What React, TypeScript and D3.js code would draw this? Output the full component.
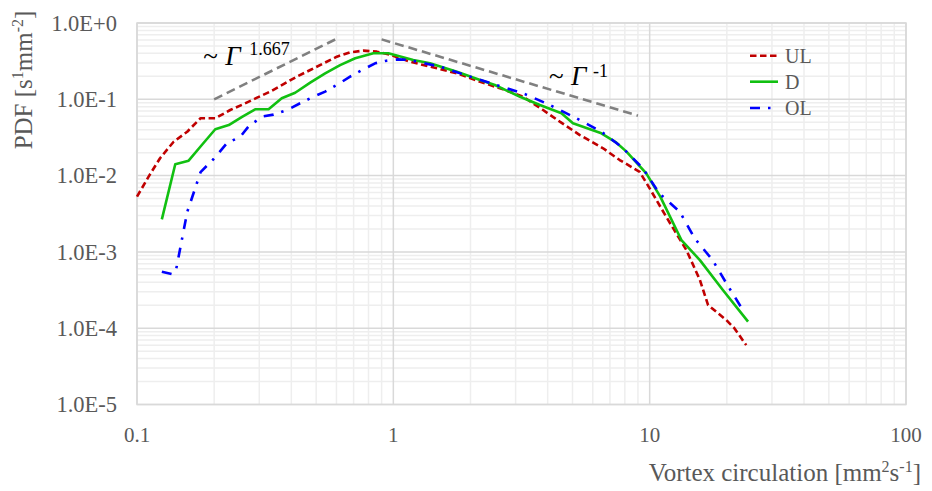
import React from "react";
import * as d3 from "d3";

// ---- data ----
const ulX = [0.1, 0.111, 0.123, 0.139, 0.157, 0.177, 0.202, 0.231, 0.261, 0.294, 0.331, 0.373, 0.42, 0.474, 0.534, 0.602, 0.678, 0.764, 0.862, 0.97, 1.16, 1.48, 1.77, 2.18, 2.68, 3.21, 3.84, 4.46, 5.34, 6.58, 7.64, 9.14, 10.0, 11.6, 13.9, 15.7, 16.9, 19.9, 21.4, 23.8];
const ulY = [0.0053, 0.0097, 0.0169, 0.0278, 0.0376, 0.0564, 0.0564, 0.0724, 0.0868, 0.105, 0.126, 0.158, 0.198, 0.242, 0.296, 0.362, 0.413, 0.434, 0.421, 0.385, 0.311, 0.255, 0.219, 0.17, 0.135, 0.108, 0.0724, 0.0509, 0.034, 0.0228, 0.016, 0.0112, 0.0068, 0.00289, 0.00106, 0.00043, 0.000201, 0.000128, 0.0001, 0.00006];

const dX = [0.125, 0.141, 0.159, 0.179, 0.202, 0.228, 0.257, 0.289, 0.326, 0.367, 0.414, 0.474, 0.542, 0.62, 0.71, 0.836, 0.956, 1.196, 1.39, 1.77, 2.18, 2.49, 3.12, 3.73, 4.53, 5.02, 6.48, 7.42, 8.12, 9.7, 11.0, 13.3, 15.7, 19.3, 24.2];
const dY = [0.00267, 0.0141, 0.0157, 0.0252, 0.0405, 0.046, 0.059, 0.074, 0.074, 0.103, 0.122, 0.165, 0.219, 0.281, 0.345, 0.401, 0.401, 0.327, 0.296, 0.23, 0.179, 0.154, 0.108, 0.0842, 0.0655, 0.0485, 0.0358, 0.027, 0.0206, 0.0107, 0.0053, 0.00143, 0.00078, 0.000317, 0.000122];

const olX = [0.125, 0.137, 0.142, 0.157, 0.177, 0.199, 0.224, 0.253, 0.272, 0.307, 0.341, 0.385, 0.433, 0.488, 0.542, 0.602, 0.678, 0.764, 0.849, 0.943, 1.046, 1.16, 1.52, 1.96, 2.53, 3.26, 4.08, 5.18, 6.48, 7.76, 9.4, 10.9, 13.1, 15.0, 17.6, 19.9, 23.1];
const olY = [0.00055, 0.00051, 0.00058, 0.00333, 0.0111, 0.0165, 0.0265, 0.0324, 0.0438, 0.0592, 0.063, 0.0724, 0.0887, 0.108, 0.126, 0.154, 0.198, 0.247, 0.296, 0.321, 0.334, 0.327, 0.268, 0.202, 0.154, 0.117, 0.0842, 0.0564, 0.0376, 0.0239, 0.0125, 0.00586, 0.00336, 0.0015, 0.00078, 0.00039, 0.000173];

const refUpX = [0.2, 0.6];
const refUpY = [0.1, 0.62];
const refDownX = [0.9, 9];
const refDownY = [0.61, 0.061];

const xTicks = [0.1, 1, 10, 100];
const xTickLabels = ["0.1", "1", "10", "100"];
const yTicks = [1, 0.1, 0.01, 0.001, 0.0001, 0.00001];
const yTickLabels = ["1.0E+0", "1.0E-1", "1.0E-2", "1.0E-3", "1.0E-4", "1.0E-5"];

const seriesNames = ["UL", "D", "OL"];

const W = 932;
const H = 491;
const M = { left: 137, right: 906, top: 23, bottom: 404.5 };
const FONT = "'Liberation Serif', 'Times New Roman', serif";

const styles = [
  { color: "#C00000", dash: "6.5,3.5", width: 2.6 },
  { color: "#11C011", dash: "", width: 2.6 },
  { color: "#0000FF", dash: "10,8,2.5,8.5", width: 2.6 },
];

export default function App() {
  const x = d3.scaleLog().domain([0.1, 100]).range([M.left, M.right]);
  const y = d3.scaleLog().domain([1e-5, 1]).range([M.bottom, M.top]);

  const line = d3
    .line<[number, number]>()
    .x((d) => x(d[0]))
    .y((d) => y(d[1]));

  const zip = (xs: number[], ys: number[]) => xs.map((v, i) => [v, ys[i]] as [number, number]);
  const series = [zip(ulX, ulY), zip(dX, dY), zip(olX, olY)];

  const minorX: number[] = [];
  for (const dec of [0.1, 1, 10]) for (let k = 2; k <= 9; k++) minorX.push(dec * k);
  const minorY: number[] = [];
  for (const dec of [1e-5, 1e-4, 1e-3, 1e-2, 1e-1]) for (let k = 2; k <= 9; k++) minorY.push(dec * k);

  const legendY = [55.7, 81.7, 108];

  return (
    <div style={{ position: "absolute", left: 0, top: 0 }}>
      <svg width={W} height={H} style={{ display: "block", background: "#fff" }} fontFamily={FONT}>
        {/* minor grid */}
        {minorX.map((v, i) => (
          <line key={"mx" + i} x1={x(v)} x2={x(v)} y1={M.top} y2={M.bottom} stroke="#EEEEEE" strokeWidth={1.5} />
        ))}
        {minorY.map((v, i) => (
          <line key={"my" + i} x1={M.left} x2={M.right} y1={y(v)} y2={y(v)} stroke="#EEEEEE" strokeWidth={1.5} />
        ))}
        {/* major grid */}
        {xTicks.map((v, i) => (
          <line key={"Mx" + i} x1={x(v)} x2={x(v)} y1={M.top} y2={M.bottom} stroke="#D9D9D9" strokeWidth={1.5} />
        ))}
        {yTicks.map((v, i) => (
          <line key={"My" + i} x1={M.left} x2={M.right} y1={y(v)} y2={y(v)} stroke="#D9D9D9" strokeWidth={1.5} />
        ))}
        <rect x={M.left} y={M.top} width={M.right - M.left} height={M.bottom - M.top} fill="none" stroke="#D9D9D9" strokeWidth={1.5} />

        {/* tick labels */}
        {yTicks.map((v, i) => (
          <text key={"yt" + i} x={117} y={y(v)} dy="0.35em" textAnchor="end" fontSize={22.5} fill="#595959">
            {yTickLabels[i]}
          </text>
        ))}
        {xTicks.map((v, i) => (
          <text key={"xt" + i} x={x(v)} y={441.5} textAnchor="middle" fontSize={21} fill="#595959">
            {xTickLabels[i]}
          </text>
        ))}

        {/* axis titles */}
        <text x={921} y={481} textAnchor="end" fontSize={25} fill="#595959">
          Vortex circulation [mm<tspan fontSize={16} dy={-9}>2</tspan>
          <tspan dy={9}>s</tspan>
          <tspan fontSize={16} dy={-9}>-1</tspan>
          <tspan dy={9}>]</tspan>
        </text>
        <text transform="translate(32,80) rotate(-90)" textAnchor="middle" fontSize={25} fill="#595959">
          PDF [s<tspan fontSize={16} dy={-9}>1</tspan>
          <tspan dy={9}>mm</tspan>
          <tspan fontSize={16} dy={-9}>-2</tspan>
          <tspan dy={9}>]</tspan>
        </text>

        {/* reference power-law lines */}
        <path d={line(zip(refUpX, refUpY)) || ""} fill="none" stroke="#808080" strokeWidth={2.6} strokeDasharray="9,5" />
        <path d={line(zip(refDownX, refDownY)) || ""} fill="none" stroke="#808080" strokeWidth={2.6} strokeDasharray="9,5" />

        {/* annotations */}
        <text x={x(refUpX[0]) - 11} y={65} fontSize={27} fill="#000">
          ~
        </text>
        <text x={x(refUpX[0]) + 11} y={65} fontSize={27} fontStyle="italic" fill="#000">
          Γ
        </text>
        <text x={x(refUpX[0]) + 35} y={55} fontSize={18} fill="#000">
          1.667
        </text>
        <text x={549} y={85} fontSize={27} fill="#000">
          ~
        </text>
        <text x={571} y={85} fontSize={27} fontStyle="italic" fill="#000">
          Γ
        </text>
        <text x={593} y={77} fontSize={18} fill="#000">
          -1
        </text>

        {/* series */}
        {series.map((s, i) => (
          <path
            key={"s" + i}
            d={line(s) || ""}
            fill="none"
            stroke={styles[i].color}
            strokeWidth={styles[i].width}
            strokeDasharray={styles[i].dash || undefined}
            strokeLinejoin="round"
          />
        ))}

        {/* legend */}
        {seriesNames.map((n, i) => (
          <g key={"lg" + i}>
            <line
              x1={750}
              x2={778}
              y1={legendY[i]}
              y2={legendY[i]}
              stroke={styles[i].color}
              strokeWidth={styles[i].width}
              strokeDasharray={styles[i].dash || undefined}
            />
            <text x={785} y={legendY[i]} dy="0.35em" fontSize={20} fill="#595959">
              {n}
            </text>
          </g>
        ))}
      </svg>
    </div>
  );
}
